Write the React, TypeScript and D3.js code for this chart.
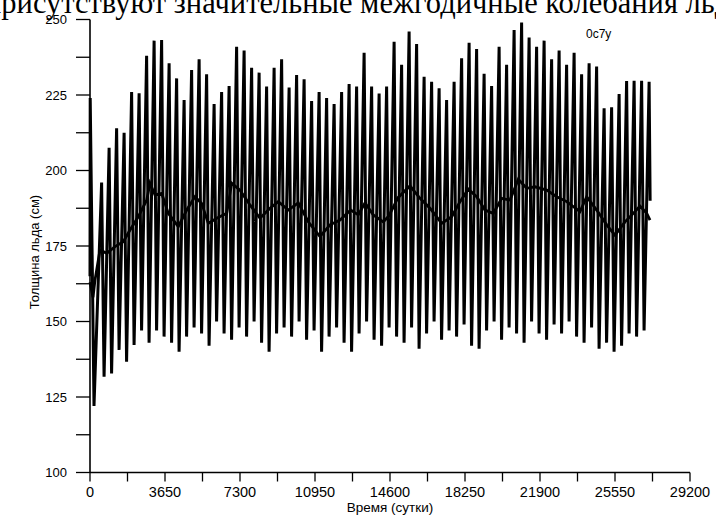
import React from "react";
import * as d3 from "d3";

// annual maximum ice thickness (cm), one per model year
const yearMax = [
  224, 196, 207.5, 214, 212.5, 226, 225.6, 238, 243, 243.2,
  235.5, 230.5, 223.3, 233.3, 236.8, 231.9, 222, 226, 228, 241,
  239.7, 234, 232.4, 227.8, 234, 236.8, 227.5, 231.6, 230.2, 223,
  226, 224, 222, 226, 228.6, 227.8, 239, 227.8, 225.5, 227.8,
  242.6, 235, 246, 241.9, 231, 229.4, 227.2, 223.3, 229.4, 237.2,
  242.3, 240.2, 232, 228, 241, 235, 246.5, 249, 244, 241,
  243, 236.8, 239.7, 235, 239, 231.9, 235.5, 234.4, 220.6, 220.9,
  225.3, 229.6, 229.7, 229.7, 229.4,
];

// annual minimum ice thickness (cm), after each maximum
const yearMin = [
  122, 131.7, 132.8, 140.6, 136.7, 142.2, 147, 143, 147, 145,
  143, 140, 145, 148, 146, 142, 150, 146, 144, 148,
  145, 150, 143, 140, 146, 148, 145, 150, 144, 147,
  140, 145, 148, 143, 140, 146, 150, 144, 142, 148,
  145, 143, 148, 141, 146, 150, 144, 147, 145, 149,
  142, 141, 147, 150, 144, 148, 146, 143, 150, 146,
  144, 149, 146, 150, 145, 143, 148, 141, 143, 140,
  142, 146, 145, 147,
];

const startValue = 165;
const endValue = 190;

// running mean
const smoothDay = [
  0, 146, 243, 487, 813, 1217, 1621, 1947, 2351, 2759, 2920, 3163, 3489, 3811,
  4297, 4706, 5110, 5436, 5757, 6166, 6653, 6896, 7300, 7787, 8273, 8760, 9164,
  9651, 10137, 10624, 11193, 11680, 12167, 12687, 13057, 13383, 13787, 14274,
  14551, 14989, 15573, 16060, 16547, 17116, 17603, 18007, 18411, 18819, 19223,
  19628, 20036, 20440, 20844, 21253, 21657, 22226, 22713, 23200, 23847, 24173,
  24659, 25146, 25550, 26037, 26441, 26767, 27093, 27253,
];
const smoothValue = [
  163, 158, 163.7, 173.7, 172.6, 174.8, 176.4, 180.3, 184.7, 190.2, 195.8, 191.9,
  192.4, 185.8, 181.4, 186.9, 191.3, 189.1, 182.5, 184.2, 185.8, 195.8, 193.5,
  188.6, 184.2, 187.5, 189.7, 186.9, 189.3, 183, 178.1, 182, 183.6, 186.9, 185.3,
  189.3, 185.3, 183, 185, 191, 194.9, 190.8, 187.5, 182.5, 184.7, 189.7, 193.8,
  191.3, 186.9, 185.8, 190.8, 190.2, 197.1, 194.1, 194.6, 193.5, 191.3, 189.7,
  186.4, 191.3, 186.9, 182, 178.6, 183, 185.8, 188.2, 185.8, 183.6,
];

const xTickLabels = [0, 3650, 7300, 10950, 14600, 18250, 21900, 25550, 29200];
const yTickLabels = [100, 125, 150, 175, 200, 225, 250];

const W = 716, H = 515;
const font = "'Liberation Sans', Arial, sans-serif";

export default function App() {
  const x = d3.scaleLinear().domain([0, 29200]).range([90, 690]);
  const y = d3.scaleLinear().domain([100, 250]).range([472.5, 19.5]);

  // build the seasonal series: max, then min, each year
  const pts: [number, number][] = [[0, startValue]];
  yearMax.forEach((v, i) => {
    pts.push([i === 0 ? 10 : i * 365 + 200, v]);
    if (i < yearMin.length) pts.push([i === 0 ? 195 : i * 365 + 320, yearMin[i]]);
  });
  pts.push([(yearMax.length - 1) * 365 + 250, endValue]);

  const line = d3.line<[number, number]>().x(d => x(d[0])).y(d => y(d[1]));
  const smooth = smoothDay.map((d, i) => [d, smoothValue[i]] as [number, number]);

  const yMinor = d3.range(100, 250.1, 12.5);
  const xMinor = d3.range(0, 29201, 1825);

  return (
    <svg width={W} height={H} style={{ position: "absolute", left: 0, top: 0, background: "#fff" }}>
      <text x={-15} y={12.5} fontFamily="'Liberation Serif', 'Times New Roman', serif" fontSize={30.5}>
        присутствуют значительные межгодичные колебания льда
      </text>

      <path d={line(pts) ?? ""} fill="none" stroke="#000" strokeWidth={3} strokeLinejoin="miter" strokeMiterlimit={3} />
      <path d={line(smooth) ?? ""} fill="none" stroke="#000" strokeWidth={2.8} />

      {/* y axis */}
      <line x1={90} x2={90} y1={y(250)} y2={y(100)} stroke="#000" strokeWidth={1.6} />
      {yMinor.map(t => (
        <line key={t} x1={76} x2={90} y1={y(t)} y2={y(t)} stroke="#000" strokeWidth={1.3} />
      ))}
      {yTickLabels.map(t => (
        <text key={t} x={67} y={y(t) + 4.5} textAnchor="end" fontFamily={font} fontSize={13}>
          {t}
        </text>
      ))}

      {/* x axis */}
      <line x1={90} x2={x(29200)} y1={y(100)} y2={y(100)} stroke="#000" strokeWidth={1.6} />
      {xMinor.map(t => (
        <line key={t} x1={x(t)} x2={x(t)} y1={y(100)} y2={y(100) + 9} stroke="#000" strokeWidth={1.3} />
      ))}
      {xTickLabels.map(t => (
        <text key={t} x={x(t)} y={497} textAnchor="middle" fontFamily={font} fontSize={14.5}>
          {t}
        </text>
      ))}

      <text x={390} y={512} textAnchor="middle" fontFamily={font} fontSize={13.5}>
        Время (сутки)
      </text>
      <text
        transform="translate(39,252) rotate(-90)"
        textAnchor="middle"
        fontFamily={font}
        fontSize={13}
      >
        Толщина льда (см)
      </text>
      <text x={586} y={38} fontFamily={font} fontSize={12}>
        0c7y
      </text>
    </svg>
  );
}
